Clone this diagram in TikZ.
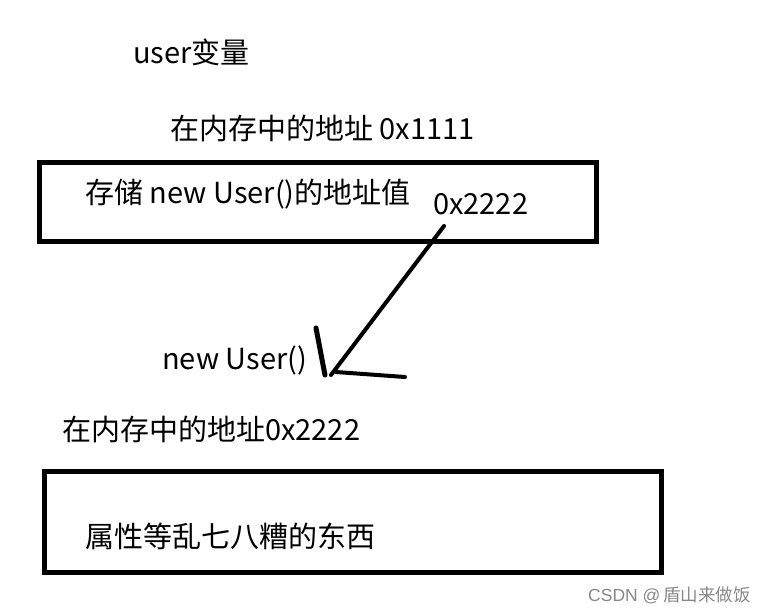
\documentclass[tikz,border=0pt]{standalone}
\usepackage{fontspec}
\newfontfamily\cjk{Noto Sans CJK SC}
\newfontfamily\latin{Liberation Sans}
\usepackage{tikz}
\usetikzlibrary{shapes,arrows}
\definecolor{markgray}{RGB}{135,135,135}
\tikzstyle{txt} = [inner sep=0pt, anchor=west,
	font=\cjk\fontsize{29}{35}\selectfont]
\tikzstyle{memory} = [rectangle, draw, line width=5pt, inner sep=0pt]
\tikzstyle{line} = [draw, line width=4pt, line cap=round]
\tikzstyle{watermark} = [inner sep=0pt, anchor=west, text=markgray,
	font=\cjk\fontsize{17.5}{21}\selectfont]

\begin{document}
\begin{tikzpicture}[x=1pt, y=-1pt]
	\useasboundingbox (0,0) rectangle (774,614);

	% Place nodes
	\node [txt] (var) at (133,52) {user变量};
	\node [txt] (varaddr) at (170,128) {在内存中的地址 0x1111};
	\node [memory, minimum width=557pt, minimum height=79pt] (varcell) at (317.5,202) {};
	\node [txt] (varval) at (85,194) {存储 new User()的地址值};
	\node [txt] (ptr) at (433,204) {0x2222};
	\node [txt] (obj) at (162,360) {new User()};
	\node [txt] (objaddr) at (62,429) {在内存中的地址0x2222};
	\node [memory, minimum width=617pt, minimum height=101.5pt] (objcell) at (353,521.75) {};
	\node [txt] (objval) at (85,536) {属性等乱七八糟的东西};
	\node [watermark] (mark) at (588,595) {{\latin CSDN @}\,盾山来做饭};

	% Draw edges (hand drawn pointer)
	\coordinate (tail) at (444,226);
	\coordinate (tip) at (331,375);
	\coordinate (headl) at (316,328);
	\coordinate (headlend) at (325,375);
	\coordinate (headr) at (336,372);
	\coordinate (headrend) at (405,377);
	\path [line] (tail) -- (tip);
	\path [line, line width=5pt] (headl) -- (headlend);
	\path [line] (headr) -- (headrend);
\end{tikzpicture}
\end{document}
